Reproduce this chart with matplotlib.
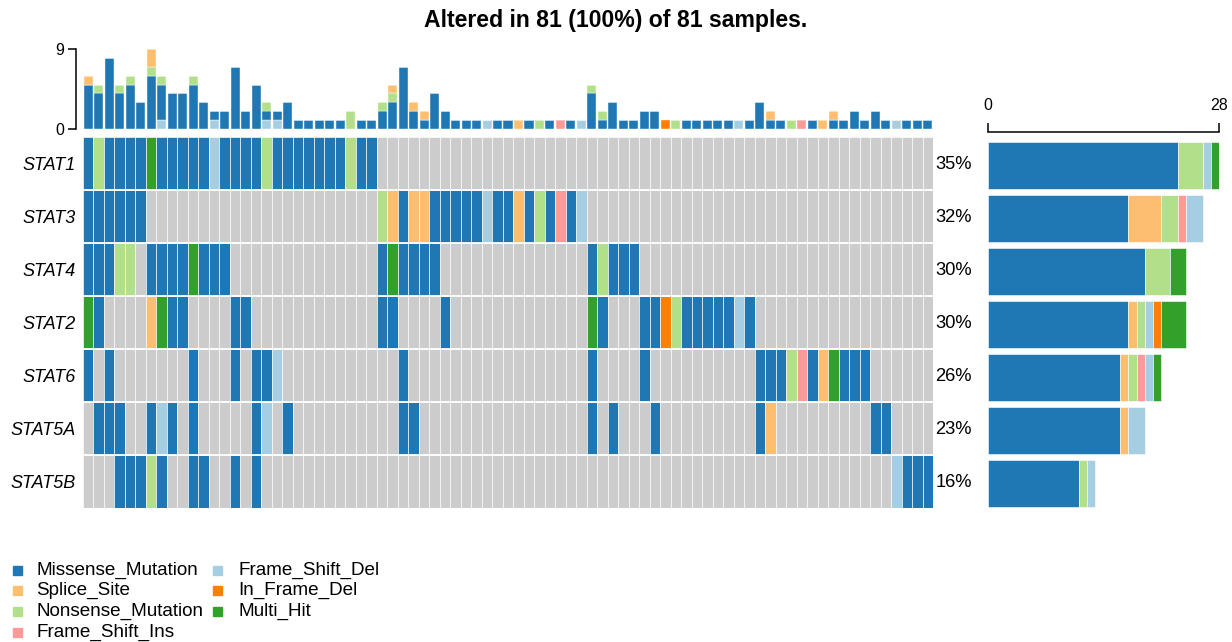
import matplotlib
matplotlib.use("Agg")
import matplotlib.pyplot as plt
from matplotlib.patches import Rectangle
import numpy as np

plt.rcParams['font.family'] = ['Liberation Sans', 'DejaVu Sans']

W, H = 1232, 642

title = "Altered in 81 (100%) of 81 samples."
n_samples = 81
genes = ["STAT1", "STAT3", "STAT4", "STAT2", "STAT6", "STAT5A", "STAT5B"]

# Variant classes (code -> name) and colours
var_codes = ["M", "S", "N", "I", "D", "F", "H"]
var_names = ["Missense_Mutation", "Splice_Site", "Nonsense_Mutation",
             "Frame_Shift_Ins", "Frame_Shift_Del", "In_Frame_Del", "Multi_Hit"]
var_colors = ["#1F78B4", "#FDBF6F", "#B2DF8A", "#FB9A99", "#A6CEE3", "#FF7F00", "#33A02C"]
bg_color = "#CCCCCC"

# Per-gene calls for samples 1..81 ('.' = not altered); blocks of 10
STAT1 = "MNMMMMHMMM MMDMMMMNMM MMMMMNMM.. .......... .......... .......... .......... .......... ."
STAT3 = "MMMMMM.... .......... ........NS MSSMMMMMDM MSMNMIMD.. .......... .......... .......... ."
STAT4 = "MMMNN.MMMM HMMM...... ........MH MMMM...... ........MN MMM....... .......... .......... ."
STAT2 = "HM....SHMM ....MM.... ........MM ....M..... ........HM ...MMFNMMM MMDM...... .......... ."
STAT6 = "M.M....... M...M.MMD. .......... M......... ........M. ...M...... ....MMMNIM SHMMM..... ."
STAT5A = ".MMM..MDM. M.....MD.M .......... MM........ ........M. M...M..... ....MS.... .....MM... ."
STAT5B = "...MMMNM.. MM..M.M... .......... .......... .......... .......... .......... .......DMM M"
gene_calls = [STAT1, STAT3, STAT4, STAT2, STAT6, STAT5A, STAT5B]

# Top bar: variants per sample by class
tb_fsdel = [0,0,0,0,0,0,0,1,0,0, 0,0,1,0,0,0,0,1,1,0, 0,0,0,0,0,0,0,0,0,0,
            0,0,0,0,0,0,0,0,1,0, 0,0,0,0,0,0,0,1,0,0, 0,0,0,0,0,0,0,0,0,0,
            0,0,1,0,0,0,0,0,0,0, 0,0,0,0,0,0,0,1,0,0, 0]
tb_missense = [5,4,8,4,5,3,6,4,4,4, 5,3,1,2,7,2,5,1,1,3, 1,1,1,1,1,0,1,1,2,3,
               7,2,1,4,2,1,1,1,0,1, 1,0,1,0,1,0,1,0,4,1, 3,1,1,2,2,0,0,1,1,1,
               1,1,0,1,3,1,1,0,0,1, 0,1,1,2,1,2,1,0,1,1, 1]
tb_nonsense = [0,1,0,1,1,0,1,1,0,0, 1,0,0,0,0,0,0,1,0,0, 0,0,0,0,0,2,0,0,1,1,
               0,0,0,0,0,0,0,0,0,0, 0,0,0,1,0,0,0,0,1,1, 0,0,0,0,0,0,1,0,0,0,
               0,0,0,0,0,0,0,1,0,0, 0,0,0,0,0,0,0,0,0,0, 0]
tb_splice = [1,0,0,0,0,0,2,0,0,0, 0,0,0,0,0,0,0,0,0,0, 0,0,0,0,0,0,0,0,0,1,
             0,1,1,0,0,0,0,0,0,0, 0,1,0,0,0,0,0,0,0,0, 0,0,0,0,0,0,0,0,0,0,
             0,0,0,0,0,1,0,0,0,0, 1,1,0,0,0,0,0,0,0,0, 0]
tb_fsins = [0,0,0,0,0,0,0,0,0,0, 0,0,0,0,0,0,0,0,0,0, 0,0,0,0,0,0,0,0,0,0,
            0,0,0,0,0,0,0,0,0,0, 0,0,0,0,0,1,0,0,0,0, 0,0,0,0,0,0,0,0,0,0,
            0,0,0,0,0,0,0,0,1,0, 0,0,0,0,0,0,0,0,0,0, 0]
tb_ifdel = [0,0,0,0,0,0,0,0,0,0, 0,0,0,0,0,0,0,0,0,0, 0,0,0,0,0,0,0,0,0,0,
            0,0,0,0,0,0,0,0,0,0, 0,0,0,0,0,0,0,0,0,0, 0,0,0,0,0,1,0,0,0,0,
            0,0,0,0,0,0,0,0,0,0, 0,0,0,0,0,0,0,0,0,0, 0]
top_ymax = 9
right_xmax = 28

# ---------------------------------------------------------------
col_of = dict(zip(var_codes, var_colors))
calls = [g.replace(" ", "") for g in gene_calls]
samples = np.arange(1, n_samples + 1)

fig = plt.figure(figsize=(W / 100, H / 100), dpi=100)

def fx(px):
    return px / W

def fy(py):
    return 1 - py / H

gx0, gx1, gy0, gy1 = 83, 933, 137, 508
ax = fig.add_axes([fx(gx0), fy(gy1), fx(gx1 - gx0), (gy1 - gy0) / H])
for r, s in enumerate(calls):
    cols = [bg_color if ch == "." else col_of[ch] for ch in s]
    ax.bar(samples, 1, bottom=r, width=1, color=cols, edgecolor="white",
           linewidth=0.45, align="center")
for r in range(1, len(genes)):
    ax.axhline(r, color="white", lw=1.3)
ax.set_xlim(0.5, n_samples + 0.5)
ax.set_ylim(len(genes), 0)
for sp in ax.spines.values():
    sp.set_visible(False)
ax.set_xticks([])
ax.set_yticks(np.arange(len(genes)) + 0.5)
ax.set_yticklabels(genes, fontstyle="italic", fontsize=13.0)
ax.tick_params(axis="y", length=0, pad=5.5)
for r, s in enumerate(calls):
    n = sum(ch != "." for ch in s)
    pct = int(np.floor(n / n_samples * 100 + 0.5))
    ax.text(1.0025, r + 0.52, f"{pct}%", transform=ax.get_yaxis_transform(),
            ha="left", va="center", fontsize=13.2)

# top bar plot
axt = fig.add_axes([fx(gx0), fy(129), fx(gx1 - gx0), 80 / H])
bottom = np.zeros(n_samples)
for vals, code in [(tb_fsdel, "D"), (tb_missense, "M"), (tb_nonsense, "N"),
                   (tb_splice, "S"), (tb_fsins, "I"), (tb_ifdel, "F")]:
    v = np.array(vals, dtype=float)
    axt.bar(samples, v, bottom=bottom, width=0.86, color=col_of[code],
            edgecolor="white", linewidth=0.3)
    bottom += v
axt.set_xlim(0.5, n_samples + 0.5)
axt.set_ylim(0, top_ymax)
for k in ["top", "right", "bottom"]:
    axt.spines[k].set_visible(False)
axt.spines["left"].set_position(("outward", 5))
axt.spines["left"].set_linewidth(1.1)
axt.set_xticks([])
axt.set_yticks([0, top_ymax])
axt.tick_params(axis="y", length=5.5, width=1.1, labelsize=11.5, pad=3)

# right bar plot
axr = fig.add_axes([fx(988), fy(gy1), fx(1219 - 988), (gy1 - gy0) / H])
for r, s in enumerate(calls):
    left = 0
    for code in var_codes:
        c = s.count(code)
        if c:
            axr.barh(r + 0.545, c, left=left, height=0.89, color=col_of[code],
                     edgecolor="white", linewidth=0.4)
            left += c
axr.set_ylim(len(genes), 0)
axr.set_xlim(0, right_xmax)
for k in ["bottom", "right", "left"]:
    axr.spines[k].set_visible(False)
axr.spines["top"].set_position(("outward", 3.6))
axr.spines["top"].set_linewidth(1.1)
axr.xaxis.set_ticks_position("top")
axr.set_xticks([0, right_xmax])
axr.set_yticks([])
axr.tick_params(axis="x", length=6.5, width=1.1, labelsize=11.5, pad=7)

# title
fig.text(0.5, fy(20), title, ha="center", va="center", fontsize=16.6, fontweight="bold")

# legend (two columns, filled column-wise)
leg_rows = [570, 590.7, 611.5, 632]
for i, (name, color) in enumerate(zip(var_names, var_colors)):
    colx = 0 if i < 4 else 1
    row = i if i < 4 else i - 4
    sx = [17, 217][colx]
    tx = [36, 238][colx]
    yy = leg_rows[row]
    fig.patches.append(Rectangle((fx(sx - 4.5), fy(yy + 4.5)), 9 / W, 9 / H,
                                 transform=fig.transFigure, color=color))
    fig.text(fx(tx), fy(yy), name, ha="left", va="center", fontsize=13.6)

fig.savefig("out.png", dpi=100)
